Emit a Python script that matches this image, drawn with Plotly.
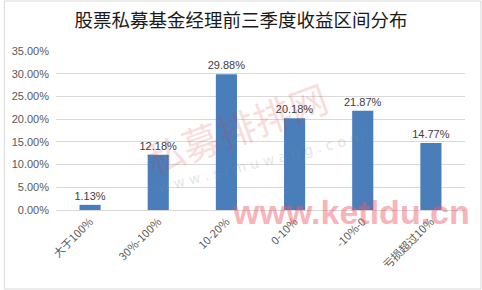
import plotly.graph_objects as go

categories = ["大于100%", "30%-100%", "10-20%", "0-10%", "-10%-0", "亏损超过10%"]
values = [1.13, 12.18, 29.88, 20.18, 21.87, 14.77]
y_ticks = [0, 5, 10, 15, 20, 25, 30, 35]
y_tick_labels = ["0.00%", "5.00%", "10.00%", "15.00%", "20.00%", "25.00%", "30.00%", "35.00%"]
title_text = "股票私募基金经理前三季度收益区间分布"

W, H = 482, 290
L, R, T, B = 53, 17, 51, 80
pw, ph = W - L - R, H - T - B

font_fam = "Liberation Sans, Arial, Noto Sans CJK SC, sans-serif"

fig = go.Figure(go.Bar(
    x=categories, y=values,
    marker=dict(color="#4a7ebb", line=dict(width=0)),
    texttemplate="%{y:.2f}%", textposition="outside", constraintext="none",
    textfont=dict(size=11, color="#404040", family=font_fam),
    cliponaxis=False,
))

fig.update_layout(
    width=W, height=H,
    margin=dict(l=L, r=R, t=T, b=B),
    paper_bgcolor="white", plot_bgcolor="white",
    bargap=0.69,
    showlegend=False,
    title=dict(text=title_text, x=0.5, xanchor="center", y=1 - 21 / H, yanchor="middle",
               font=dict(size=18.5, color="#1a1a1a", family="Noto Sans CJK SC, sans-serif")),
    xaxis=dict(tickangle=-45, tickfont=dict(size=11, color="#595959", family="Noto Sans CJK SC, sans-serif"),
               showgrid=False, showline=True, linecolor="#d9d9d9", ticks=""),
    yaxis=dict(range=[0, 35], tickmode="array", tickvals=y_ticks, ticktext=y_tick_labels,
               tickfont=dict(size=11, color="#595959", family=font_fam),
               showgrid=True, gridcolor="#d9d9d9", zeroline=False, showline=False, ticks="",
               ticklabelstandoff=6),
)

# chart-area border
fig.add_shape(type="rect", xref="paper", yref="paper",
              x0=-(L - 1) / pw, x1=1 + (R - 1) / pw, y0=-(B - 1) / ph, y1=1 + (T - 1) / ph,
              line=dict(color="#d9d9d9", width=1), fillcolor="rgba(0,0,0,0)", layer="below")

# watermarks
fig.add_annotation(text="私募排排网", xref="paper", yref="paper", x=0.44, y=0.52,
                   xanchor="center", yanchor="middle",
                   showarrow=False, textangle=-20, opacity=0.16,
                   font=dict(size=38, color="#e03030", family="Noto Sans CJK SC, sans-serif"))
fig.add_annotation(text="w w w . s i m u w a n g . c o m", xref="paper", yref="paper", x=0.50, y=0.30,
                   xanchor="center", yanchor="middle",
                   showarrow=False, textangle=-14, opacity=0.22,
                   font=dict(size=14, color="#8090a0", family="DejaVu Sans, sans-serif"))
fig.add_annotation(text="<b>www.ketldu.cn</b>", xref="paper", yref="paper", x=0.721, y=-0.012,
                   xanchor="center", yanchor="middle",
                   showarrow=False, opacity=0.45,
                   font=dict(size=34, color="#ef5a6a", family="Liberation Sans, Arial, sans-serif"))

fig.write_html("out.html")
